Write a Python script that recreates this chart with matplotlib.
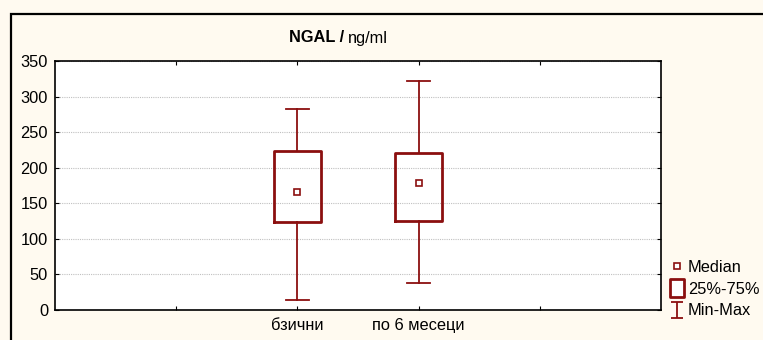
import matplotlib.pyplot as plt
from matplotlib.lines import Line2D
from matplotlib.path import Path
from matplotlib.patches import Rectangle

plt.rcParams['font.family'] = ['Liberation Sans', 'DejaVu Sans']

# data
groups = ["бзични", "по 6 месеци"]
positions = [2, 3]
medians = [166, 178]
q1 = [124, 125]
q3 = [224, 220]
mins = [14, 38]
maxs = [282, 322]

dark_red = "#8b0f0f"
bg = "#fffaf0"
fs = 11.8

fig = plt.figure(figsize=(7.63, 3.40), dpi=100, facecolor=bg)
# outer frame
fig.patches.append(Rectangle((11 / 763, -0.1), 1.1, 1 - 14 / 340 + 0.1,
                             transform=fig.transFigure, fill=False,
                             edgecolor="black", linewidth=1.6))

ax = fig.add_axes([55 / 763, 1 - 310 / 340, (661 - 55) / 763, (310 - 61) / 340])
ax.set_facecolor("white")

stats = []
for i in range(len(groups)):
    stats.append(dict(med=medians[i], q1=q1[i], q3=q3[i],
                      whislo=mins[i], whishi=maxs[i], fliers=[]))

ax.bxp(stats, positions=positions, widths=0.39, capwidths=0.19,
       showfliers=False, manage_ticks=False,
       boxprops=dict(color=dark_red, linewidth=2.0),
       whiskerprops=dict(color=dark_red, linewidth=1.3),
       capprops=dict(color=dark_red, linewidth=1.3),
       medianprops=dict(linestyle="none"))
ax.plot(positions, medians, linestyle="none", marker="s", markersize=4.5,
        markerfacecolor="white", markeredgecolor=dark_red, markeredgewidth=1.2)

ax.set_xlim(0, 5)
ax.set_ylim(0, 350)
ax.set_yticks(range(0, 351, 50))
ax.set_xticks([1, 2, 3, 4])
ax.set_xticklabels(["", groups[0], groups[1], ""])
ax.yaxis.grid(True, linestyle=(0, (1, 1)), color="#c0c0c0", linewidth=0.8)
ax.set_axisbelow(True)
ax.tick_params(direction="in", length=3, top=True, right=True,
               labelsize=fs, colors="black")
ax.tick_params(axis="x", pad=6)
ax.tick_params(axis="y", pad=5)
for s in ax.spines.values():
    s.set_linewidth(1.2)

# title: bold part + regular part
fig.text(344 / 763, 1 - 38 / 340, "NGAL /", ha="right", va="center",
         fontsize=fs, fontweight="bold")
fig.text(348 / 763, 1 - 38 / 340, "ng/ml", ha="left", va="center", fontsize=fs)

# legend
ibeam = Path([(-0.76, 1), (0.76, 1), (0, 1), (0, -1), (-0.76, -1), (0.76, -1)],
             [Path.MOVETO, Path.LINETO, Path.MOVETO, Path.LINETO,
              Path.MOVETO, Path.LINETO])
rect = Path([(-0.41, -0.5), (0.41, -0.5), (0.41, 0.5), (-0.41, 0.5), (-0.41, -0.5)],
            [Path.MOVETO, Path.LINETO, Path.LINETO, Path.LINETO, Path.CLOSEPOLY])
handles = [
    Line2D([], [], linestyle="none", marker="s", markersize=4.5,
           markerfacecolor="white", markeredgecolor=dark_red, markeredgewidth=1.2),
    Line2D([], [], linestyle="none", marker=rect, markersize=12.5,
           markerfacecolor="white", markeredgecolor=dark_red, markeredgewidth=2.0),
    Line2D([], [], linestyle="none", marker=ibeam, markersize=12,
           color=dark_red, markeredgewidth=1.3),
]
fig.legend(handles, ["Median", "25%-75%", "Min-Max"], loc="center left",
           bbox_to_anchor=(661 / 763, 1 - 289 / 340), frameon=False,
           fontsize=fs, handlelength=1.0, handletextpad=0.15,
           labelspacing=0.42, borderpad=0)

fig.savefig("out.png", dpi=100, facecolor=bg)
